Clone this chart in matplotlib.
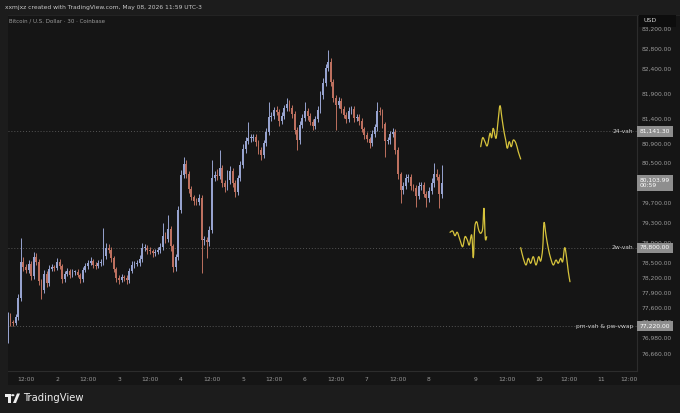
import numpy as np
import matplotlib
matplotlib.use('Agg')
import matplotlib.pyplot as plt
from matplotlib.patches import Rectangle, Circle, Polygon, PathPatch
from matplotlib.path import Path
from matplotlib.transforms import blended_transform_factory

# BTC/USD 30m (read as hourly candles), May 1 04:00 -> May 8 05:00
inicio = 1 + 4 / 24  # dia 1, 04:00
cierres = [
    76940, 77430, 77300, 77280, 77400, 77790, 78510, 78410, 78350, 78470,
    78230, 78610, 78510, 78130, 77950, 78270, 78090, 78370, 78410, 78390,
    78510, 78430, 78170, 78270, 78330, 78250, 78310, 78310, 78250, 78170,
    78350, 78430, 78490, 78530, 78450, 78430, 78490, 78510, 78630, 78790,
    78750, 78590, 78370, 78190, 78150, 78210, 78190, 78150, 78330, 78450,
    78470, 78490, 78570, 78790, 78790, 78750, 78730, 78690, 78710, 78750,
    78810, 79030, 78970, 79180, 78830, 78410, 78610, 79560, 80260, 80490,
    80280, 79980, 79820, 79740, 79720, 79800, 78960, 78960, 78920, 79160,
    80200, 80260, 80240, 80400, 80100, 80020, 80160, 80340, 80100, 79920,
    80200, 80470, 80790, 80950, 81010, 81010, 81030, 80930, 80770, 80670,
    80910, 81130, 81430, 81450, 81570, 81530, 81350, 81450, 81610, 81690,
    81610, 81490, 81170, 80970, 81270, 81410, 81550, 81450, 81330, 81250,
    81390, 81570, 81870, 82120, 82420, 82540, 82140, 81810, 81670, 81750,
    81590, 81470, 81390, 81550, 81590, 81410, 81430, 81350, 81190, 81070,
    80990, 80910, 81090, 81230, 81550, 81530, 81290, 80950, 80970, 81090,
    81130, 80770, 80280, 79960, 80040, 80200, 80220, 80040, 80000, 79840,
    80040, 80060, 79880, 79800, 79940, 80100, 80280, 80220, 79880, 80103.99,
]
apertura_inicial = 76880

mecha_sup = [
    60, 80, 60, 40, 60, 80, 480, 100, 60, 80,
    60, 100, 80, 60, 40, 80, 60, 80, 60, 40,
    80, 60, 40, 60, 60, 40, 60, 40, 60, 40,
    60, 60, 60, 80, 40, 60, 60, 60, 560, 100,
    80, 60, 40, 40, 60, 60, 40, 60, 60, 80,
    60, 60, 80, 100, 80, 60, 60, 40, 60, 60,
    80, 260, 80, 280, 60, 40, 60, 80, 100, 140,
    80, 60, 60, 40, 60, 80, 60, 80, 60, 80,
    360, 80, 120, 360, 60, 60, 200, 100, 60, 60,
    60, 80, 100, 80, 320, 80, 60, 60, 40, 60,
    60, 80, 300, 80, 60, 80, 60, 80, 60, 120,
    80, 60, 60, 60, 80, 80, 180, 60, 60, 60,
    60, 80, 80, 100, 80, 240, 80, 60, 60, 80,
    60, 60, 60, 80, 60, 60, 60, 60, 60, 40,
    60, 40, 80, 60, 180, 80, 60, 40, 60, 60,
    80, 60, 60, 40, 80, 80, 60, 60, 40, 60,
    80, 60, 60, 60, 80, 100, 220, 100, 60, 360,
]
mecha_inf = [
    80, 60, 80, 60, 40, 60, 60, 80, 60, 60,
    80, 60, 60, 80, 180, 60, 80, 60, 40, 60,
    40, 60, 80, 60, 40, 60, 40, 60, 40, 80,
    60, 40, 60, 40, 60, 60, 40, 60, 60, 60,
    60, 80, 60, 80, 80, 40, 60, 80, 60, 40,
    60, 40, 60, 60, 60, 80, 60, 80, 60, 40,
    60, 60, 80, 60, 100, 100, 80, 60, 60, 60,
    80, 80, 60, 80, 60, 60, 660, 100, 320, 80,
    60, 60, 80, 60, 80, 100, 60, 80, 80, 100,
    60, 60, 60, 80, 60, 80, 60, 80, 80, 100,
    60, 60, 60, 80, 60, 60, 100, 60, 60, 60,
    60, 80, 80, 200, 80, 60, 60, 80, 60, 80,
    60, 60, 60, 80, 60, 60, 80, 80, 500, 60,
    80, 60, 80, 60, 60, 80, 60, 80, 60, 80,
    60, 100, 60, 60, 80, 60, 80, 320, 60, 80,
    60, 80, 100, 260, 80, 60, 80, 80, 60, 220,
    60, 80, 60, 180, 80, 60, 80, 60, 280, 80,
]

# niveles horizontales
niveles = [81141.30, 78800.00, 77220.00]
niveles_txt = ['24-vah', '2w-vah', 'pm-vah & pw-vwap']

# proyecciones dibujadas a mano (dia, precio)
proy_a_x = [8.834, 8.866, 8.903, 8.940, 8.984, 9.011, 9.037, 9.081, 9.113, 9.145,
            9.177, 9.210, 9.237, 9.263, 9.295, 9.327, 9.360, 9.403, 9.440, 9.479]
proy_a_y = [80833, 81014, 80934, 80853, 81103, 81014, 81203, 81002, 81336, 81658,
            81405, 81135, 80968, 80801, 80934, 80833, 80968, 80901, 80732, 80585]
proy_b_x = [8.339, 8.382, 8.419, 8.456, 8.500, 8.543, 8.581, 8.618, 8.650, 8.689,
            8.715, 8.737, 8.769, 8.802, 8.834, 8.866, 8.887, 8.908, 8.931]
proy_b_y = [79110, 79136, 79041, 79110, 78955, 78820, 79021, 78955, 78854, 79055,
            78599, 79190, 79323, 79156, 79090, 79190, 79593, 78989, 79021]
proy_c_x = [9.479, 9.521, 9.565, 9.602, 9.640, 9.682, 9.726, 9.769, 9.802, 9.834,
            9.855, 9.887, 9.924, 9.963, 10.005, 10.048, 10.085, 10.124, 10.156,
            10.189, 10.221, 10.247, 10.274]
proy_c_y = [78800, 78586, 78452, 78586, 78486, 78619, 78452, 78619, 78532, 78788,
            79303, 79055, 78788, 78586, 78452, 78552, 78486, 78586, 78518, 78800,
            78586, 78317, 78115]

# eje de precios y eje de tiempo
precios_ticks = [83200, 82800, 82400, 81900, 81400, 80900, 80500, 79700, 79300,
                 78900, 78500, 78200, 77900, 77600, 77300, 76980, 76660]
tiempo_ticks = [1.5, 2, 2.5, 3, 3.5, 4, 4.5, 5, 5.5, 6, 6.5, 7, 7.5, 8,
                8.758, 9.258, 9.774, 10.258, 10.774, 11.226]
tiempo_txt = ['12:00', '2', '12:00', '3', '12:00', '4', '12:00', '5', '12:00', '6',
              '12:00', '7', '12:00', '8', '9', '12:00', '10', '12:00', '11', '12:00']

# ---------------- figura ----------------
fondo = '#1c1c1c'
panel = '#151515'
gris = '#9a9a9a'
sube = '#97a3cf'
baja = '#bd705f'
amarillo = '#d6c33c'

plt.rcParams['font.family'] = ['DejaVu Sans']
fig = plt.figure(figsize=(6.8, 4.13), dpi=100, facecolor=fondo)
W, H = 680, 413
fig.patches.append(Rectangle((8 / W, 1 - 385 / H), 672 / W, 370 / H,
                             transform=fig.transFigure, facecolor=panel,
                             edgecolor='none', zorder=-2))
ax = fig.add_axes([8 / W, 1 - 371 / H, 629 / W, 356 / H])
ax.set_facecolor(panel)

cierres = np.array(cierres, dtype=float)
aperturas = np.concatenate([[apertura_inicial], cierres[:-1]])
x = inicio + np.arange(len(cierres)) / 24
altos = np.maximum(aperturas, cierres) + np.array(mecha_sup)
bajos = np.minimum(aperturas, cierres) - np.array(mecha_inf)
colores = np.where(cierres >= aperturas, sube, baja)

ax.vlines(x, bajos, altos, colors=colores, linewidth=0.7, zorder=3)
alto_cuerpo = np.maximum(np.abs(cierres - aperturas), 16)
ax.bar(x, alto_cuerpo, bottom=np.minimum(aperturas, cierres), width=0.72 / 24,
       color=colores, edgecolor='none', zorder=3)


def trazo_suave(xs, ys):
    # curva suave que pasa por los puntos leidos (Catmull-Rom como Bezier)
    p = np.column_stack([xs, ys]).astype(float)
    verts = [p[0]]
    codes = [Path.MOVETO]
    for i in range(len(p) - 1):
        p0 = p[max(i - 1, 0)]
        p1, p2 = p[i], p[i + 1]
        p3 = p[min(i + 2, len(p) - 1)]
        verts += [p1 + (p2 - p0) / 6, p2 - (p3 - p1) / 6, p2]
        codes += [Path.CURVE4] * 3
    return Path(verts, codes)


for px, py in [(proy_a_x, proy_a_y), (proy_b_x, proy_b_y), (proy_c_x, proy_c_y)]:
    ax.add_patch(PathPatch(trazo_suave(px, py), facecolor='none', edgecolor=amarillo,
                           linewidth=0.9, capstyle='round', joinstyle='round', zorder=4))

for nivel, txt in zip(niveles, niveles_txt):
    ax.axhline(nivel, color='#555555', linewidth=0.7, linestyle=(0, (1, 2)), zorder=2)
    ax.text(0.9936, nivel, txt, transform=blended_transform_factory(ax.transAxes, ax.transData),
            ha='right', va='center', fontsize=4.3, color='#cfcfcf', zorder=5)

ax.set_xlim(1.2097, 11.355)
ax.set_ylim(76318, 83484)

ax.yaxis.tick_right()
ax.set_yticks(precios_ticks)
ax.set_yticklabels([f'{p:,.2f}' for p in precios_ticks])
ax.tick_params(axis='y', length=0, pad=3, labelsize=4.3, labelcolor=gris)
ax.set_xticks(tiempo_ticks)
ax.set_xticklabels(tiempo_txt)
ax.tick_params(axis='x', length=0, pad=4, labelsize=4.3, labelcolor=gris)
for lado in ['top', 'left']:
    ax.spines[lado].set_visible(False)
ax.spines['right'].set_color('#2c2c2c')
ax.spines['bottom'].set_color('#2c2c2c')
ax.spines['right'].set_linewidth(0.8)
ax.spines['bottom'].set_linewidth(0.8)

# etiquetas de precio en el eje
trans = blended_transform_factory(ax.transAxes, ax.transData)
for nivel in niveles:
    ax.text(1.0045, nivel, f'{nivel:,.2f}', transform=trans, ha='left', va='center',
            fontsize=4.3, color='white', zorder=6, clip_on=False,
            bbox=dict(boxstyle='square,pad=0.45', facecolor='#8e8e8e', edgecolor='none'))
ax.text(1.0045, cierres[-1], f'{cierres[-1]:,.2f}\n00:59', transform=trans, ha='left',
        va='center', fontsize=4.3, color='white', zorder=6, clip_on=False, linespacing=1.25,
        bbox=dict(boxstyle='square,pad=0.45', facecolor='#8e8e8e', edgecolor='none'))

# tapa del eje de precios: la etiqueta 12:00 final queda cortada
fig.patches.append(Rectangle((638 / W, 1 - 385 / H), 42 / W, 13 / H,
                             transform=fig.transFigure, facecolor=panel,
                             edgecolor='none', zorder=5))
fig.patches.append(Rectangle((639 / W, 1 - 27 / H), 37 / W, 12 / H,
                             transform=fig.transFigure, facecolor='#0d0d0d',
                             edgecolor='none', zorder=5))
fig.text(643 / W, 1 - 21 / H, 'USD', fontsize=4.5, color='#d0d0d0', va='center', zorder=6)

# textos de cabecera
fig.text(5 / W, 1 - 8 / H, 'xxmjxz created with TradingView.com, May 08, 2026 11:59 UTC-3',
         fontsize=4.3, color='#c8c8c8', va='center')
fig.text(9 / W, 1 - 21 / H, 'Bitcoin / U.S. Dollar · 30 · Coinbase',
         fontsize=4.0, color='#9a9a9a', va='center')
fig.lines.append(plt.Line2D([8 / W, 1], [1 - 15 / H, 1 - 15 / H], transform=fig.transFigure,
                            color='#262626', linewidth=0.6))

# logo TradingView
def fx(p):
    return p / W

def fy(p):
    return 1 - p / H

fig.patches.append(Rectangle((fx(5), fy(397)), fx(6), 3.5 / H, transform=fig.transFigure,
                             facecolor='#eeeeee', edgecolor='none'))
fig.patches.append(Rectangle((fx(8), fy(403)), fx(3), 9 / H, transform=fig.transFigure,
                             facecolor='#eeeeee', edgecolor='none'))
fig.patches.append(Circle((fx(12.8), fy(395.2)), 1.7 / W, transform=fig.transFigure,
                          facecolor='#eeeeee', edgecolor='none'))
fig.patches.append(Polygon([(fx(13), fy(403)), (fx(16), fy(403)), (fx(20), fy(393.5)),
                            (fx(17), fy(393.5))], closed=True, transform=fig.transFigure,
                           facecolor='#eeeeee', edgecolor='none'))
fig.text(23 / W, 1 - 398 / H, 'TradingView', fontsize=7.2, color='#eeeeee', va='center')

plt.savefig('out.png', dpi=100, facecolor=fondo)
